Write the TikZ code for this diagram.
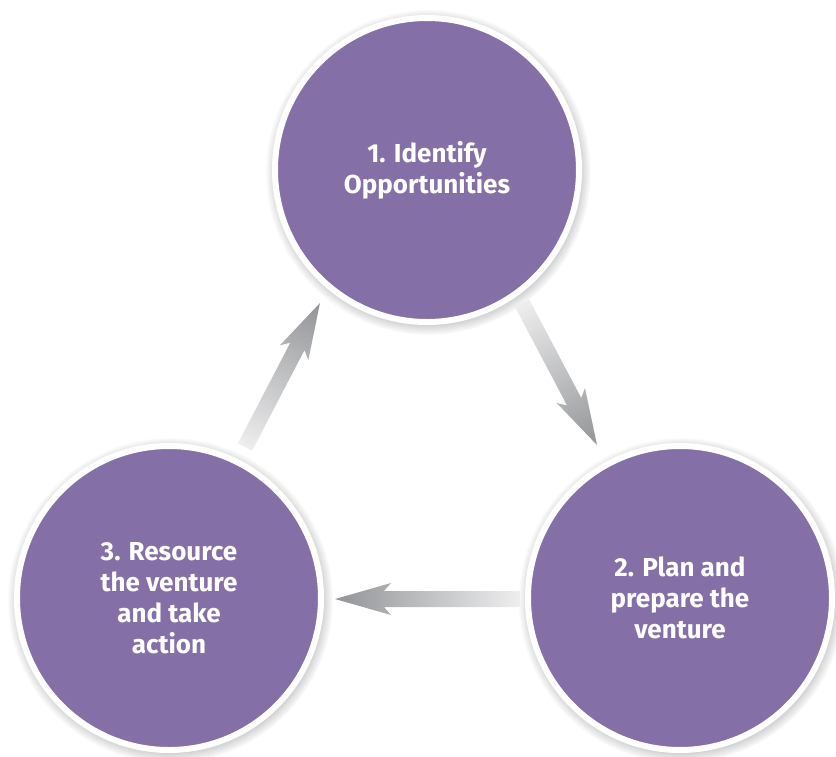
\documentclass[tikz,border=0pt]{standalone}
\usepackage{fontspec}
\setmainfont{Fira Sans}
\usetikzlibrary{calc,shadows}

\definecolor{stagepurple}{RGB}{132,112,166}
\definecolor{arrowlight}{RGB}{238,238,239}
\definecolor{arrowdark}{RGB}{146,148,151}

\tikzset{
	stage/.style={circle, fill=stagepurple, draw=white, line width=6pt,
		minimum size=304pt, inner sep=0pt, align=center, text=white,
		font=\fontsize{26}{31}\selectfont\bfseries,
		circular drop shadow={shadow xshift=1pt, shadow yshift=-2pt,
			shadow scale=1.07, opacity=0.8}},
}

% shaded arrow from coordinate #1 to coordinate #2
\newcommand\flowarrow[2]{%
	\path let \p1=($(#2)-(#1)$) in \pgfextra{%
		\pgfmathsetmacro\arang{atan2(\y1,\x1)}%
		\pgfmathsetmacro\arlen{veclen(\x1,\y1)}%
		\xdef\arang{\arang}\xdef\arlen{\arlen}};
	\begin{scope}[transform canvas={shift={(#1)},rotate=\arang}]
		\shade[left color=arrowlight, right color=arrowdark]
			(0,-8) -- ({\arlen-49},-8) -- ({\arlen-56},-16) -- (\arlen,0)
			-- ({\arlen-56},16) -- ({\arlen-49},8) -- (0,8) -- cycle;
	\end{scope}}

\begin{document}
\begin{tikzpicture}[x=1pt, y=-1pt]
		\useasboundingbox (0,0) rectangle (836,756);
		\node[stage] (idn) at (427,170) {1. Identify\\Opportunities};
		\node[stage] (pln) at (680,598) {2. Plan and\\prepare the\\venture};
		\node[stage] (res) at (169,598) {3. Resource\\the venture\\and take\\action};
		\coordinate (a1s) at ($(idn)+(95,133)$);
		\coordinate (a1t) at ($(pln)+(-83,-153)$);
		\coordinate (a2s) at ($(pln)+(-160,1)$);
		\coordinate (a2t) at ($(res)+(166,1)$);
		\coordinate (a3s) at ($(res)+(76,-151)$);
		\coordinate (a3t) at ($(idn)+(-107,133)$);
		\flowarrow{a1s}{a1t}
		\flowarrow{a2s}{a2t}
		\flowarrow{a3s}{a3t}
	\end{tikzpicture}
\end{document}
